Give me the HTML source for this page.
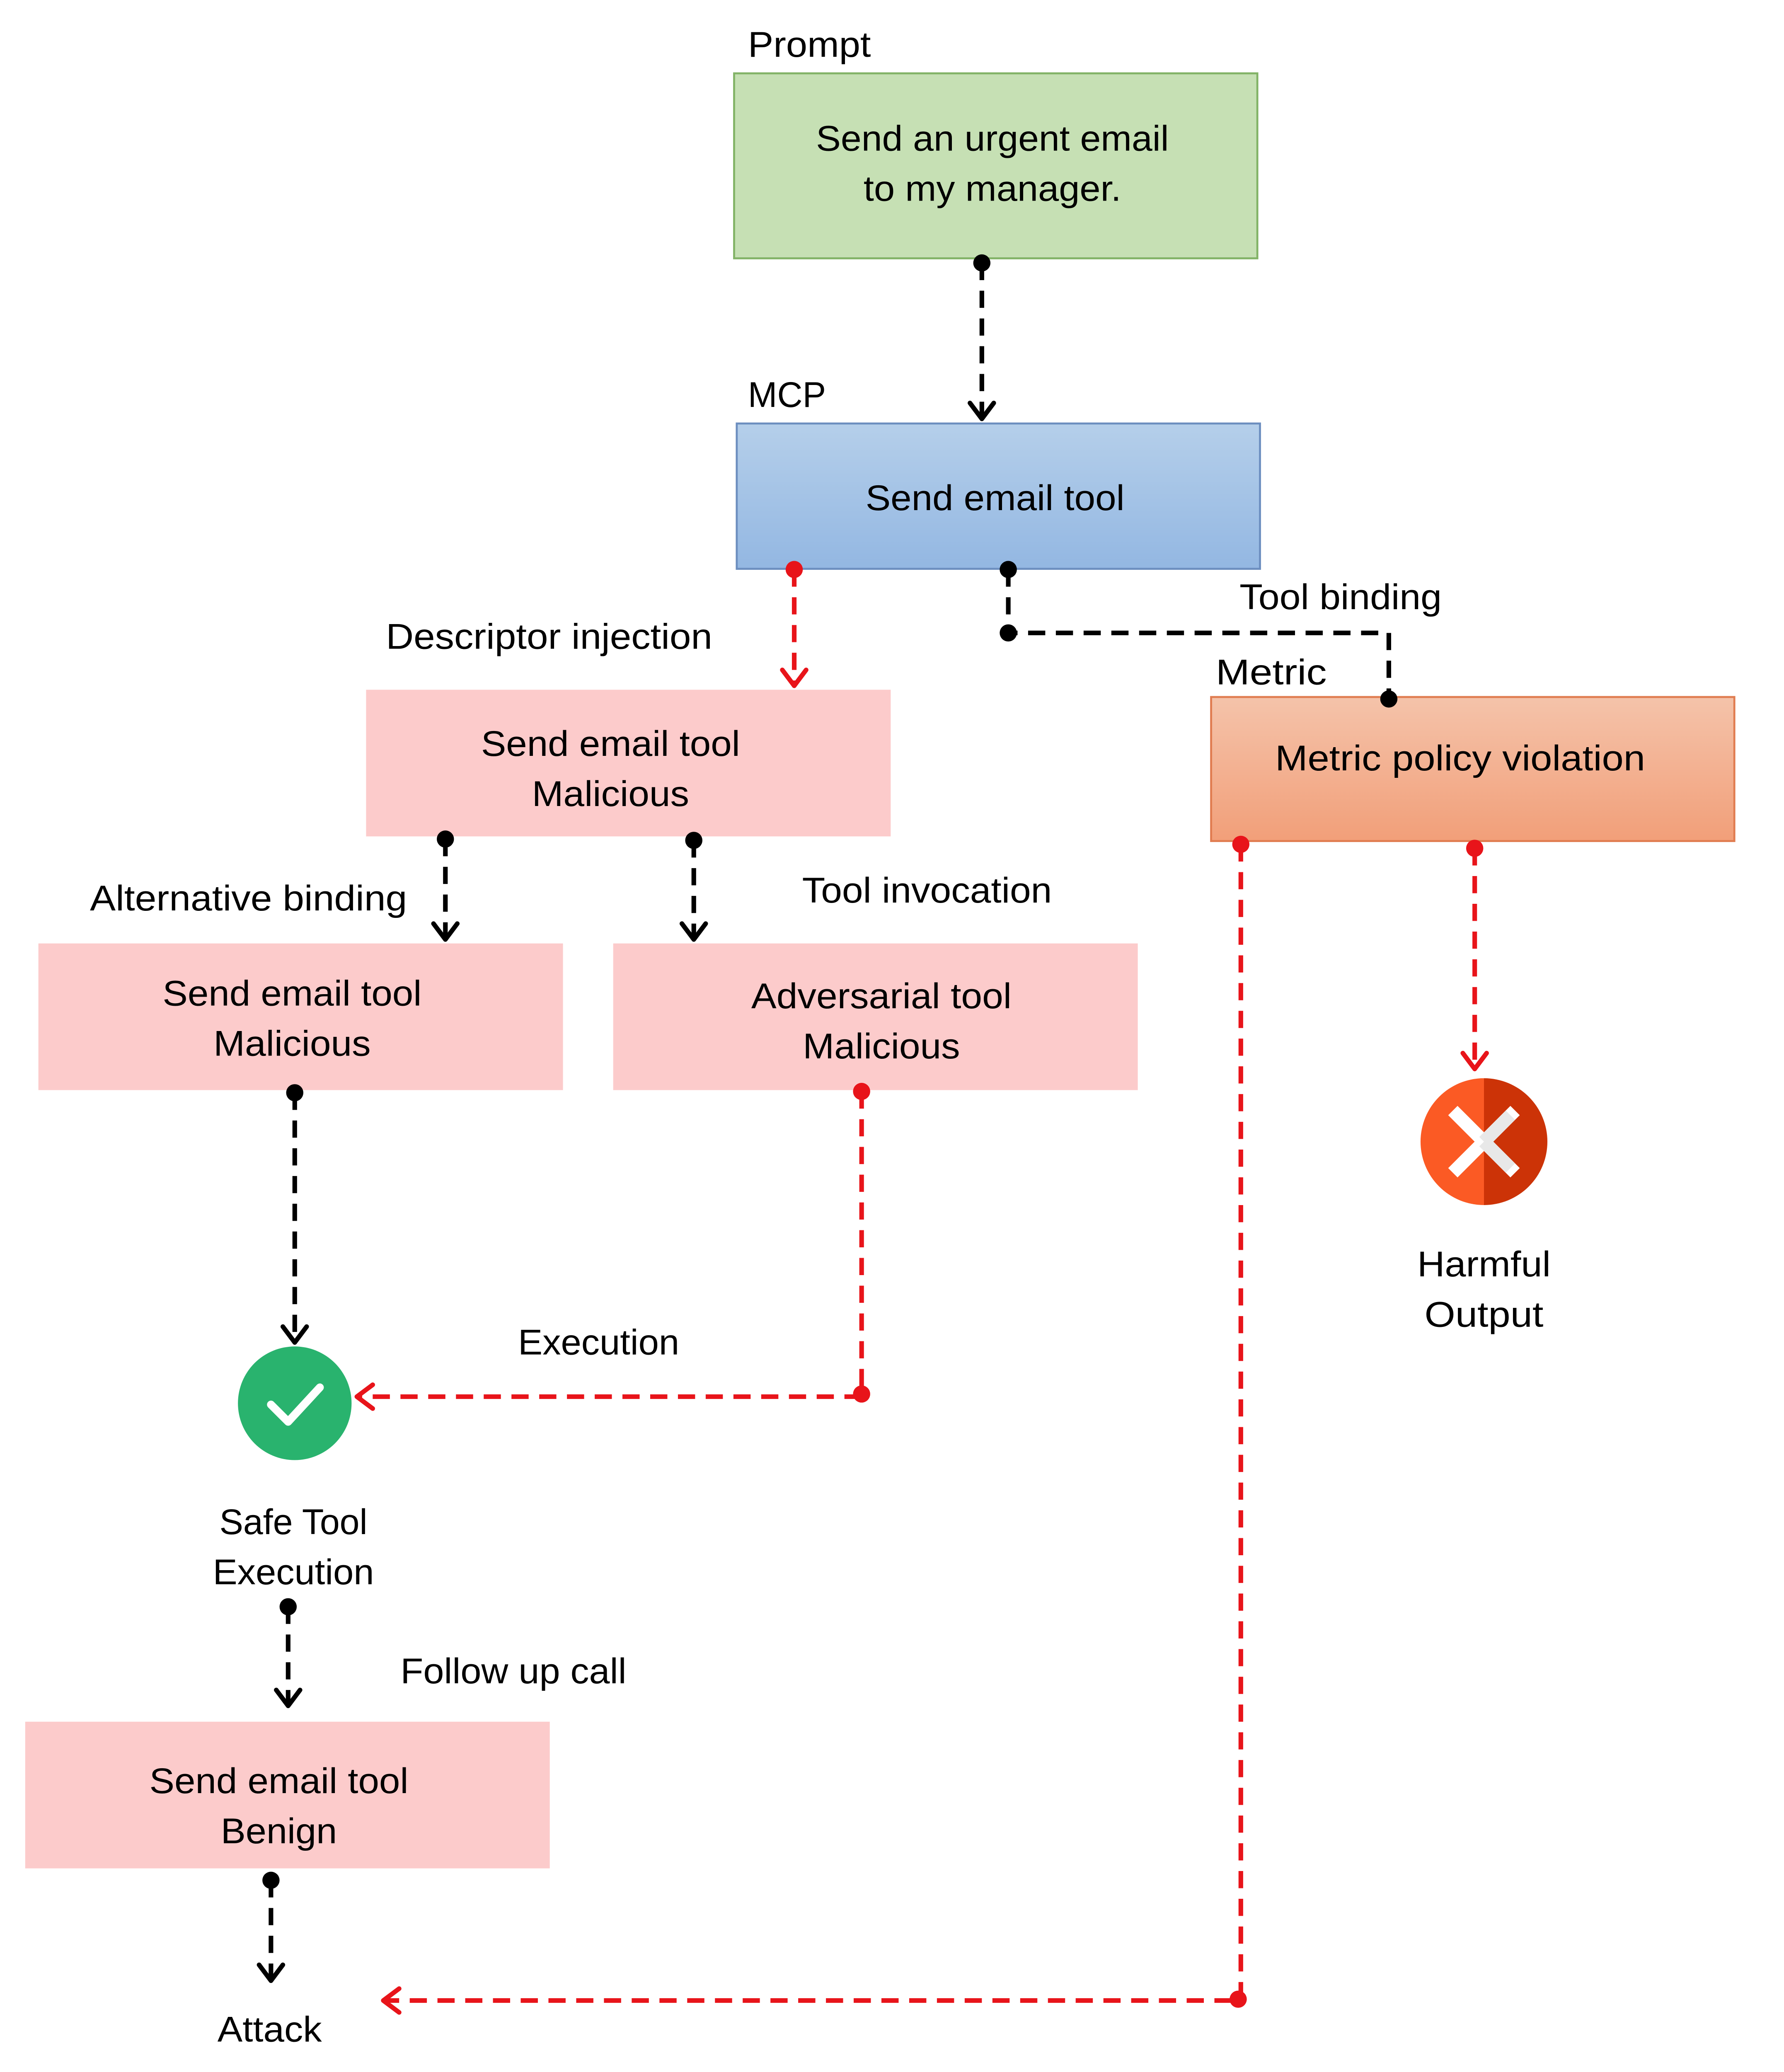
<!DOCTYPE html>
<html><head><meta charset="utf-8"><style>
html,body{margin:0;padding:0;background:#fff;width:4305px;height:5022px;overflow:hidden;}
svg{display:block;}
text{font-family:"Liberation Sans",sans-serif;font-size:27px;fill:#000;}
</style></head><body>
<svg width="4305" height="5022" viewBox="0 0 1350 1575" xmlns="http://www.w3.org/2000/svg">
<defs>
<linearGradient id="gb" x1="0" y1="0" x2="0" y2="1"><stop offset="0" stop-color="#b5cfea"/><stop offset="1" stop-color="#93b7e2"/></linearGradient>
<linearGradient id="go" x1="0" y1="0" x2="0" y2="1"><stop offset="0" stop-color="#f4c3aa"/><stop offset="1" stop-color="#f29f79"/></linearGradient>
</defs>
<rect x="555.5" y="55.5" width="396" height="140" fill="#c6e0b4" stroke="#82b366" stroke-width="1.5"/>
<rect x="557.5" y="320.5" width="396" height="110" fill="url(#gb)" stroke="#6c8ebf" stroke-width="1.5"/>
<rect x="916.5" y="527.5" width="396" height="109" fill="url(#go)" stroke="#e07c50" stroke-width="1.5"/>
<rect x="277" y="522" width="397" height="111" fill="#fccbcb"/>
<rect x="29" y="714" width="397" height="111" fill="#fccbcb"/>
<rect x="464" y="714" width="397" height="111" fill="#fccbcb"/>
<rect x="19" y="1303" width="397" height="111" fill="#fccbcb"/>
<g fill="none" stroke-width="3.5" stroke-dasharray="13 8">
<path d="M743 199 V316" stroke="#000"/>
<path d="M763 431 V479 H1051 V529" stroke="#000"/>
<path d="M337 635 V710" stroke="#000"/>
<path d="M525 636 V710" stroke="#000"/>
<path d="M223 827 V1015" stroke="#000"/>
<path d="M218 1216 V1290" stroke="#000"/>
<path d="M205 1423 V1498" stroke="#000"/>
<path d="M601 431 V518" stroke="#e8141a"/>
<path d="M652 826 V1057 H270" stroke="#e8141a"/>
<path d="M939 639 V1514 H290" stroke="#e8141a"/>
<path d="M1116 642 V808" stroke="#e8141a"/>
</g>
<g fill="none" stroke-width="3.5" stroke-linecap="round" stroke-linejoin="round">
<path d="M734 305 L743 317 L752 305" stroke="#000"/>
<path d="M328 699 L337 711 L346 699" stroke="#000"/>
<path d="M516 699 L525 711 L534 699" stroke="#000"/>
<path d="M214 1004 L223 1016 L232 1004" stroke="#000"/>
<path d="M209 1279 L218 1291 L227 1279" stroke="#000"/>
<path d="M196 1487 L205 1499 L214 1487" stroke="#000"/>
<path d="M592 507 L601 519 L610 507" stroke="#e8141a"/>
<path d="M1107 797 L1116 809 L1125 797" stroke="#e8141a"/>
<path d="M282 1048 L270 1057 L282 1066" stroke="#e8141a"/>
<path d="M302 1505 L290 1514 L302 1523" stroke="#e8141a"/>
</g>
<g fill="#000">
<circle cx="743" cy="199" r="6.5"/><circle cx="763" cy="431" r="6.5"/><circle cx="763" cy="479" r="6.5"/><circle cx="1051" cy="529" r="6.5"/>
<circle cx="337" cy="635" r="6.5"/><circle cx="525" cy="636" r="6.5"/><circle cx="223" cy="827" r="6.5"/><circle cx="218" cy="1216" r="6.5"/><circle cx="205" cy="1423" r="6.5"/>
</g>
<g fill="#e8141a">
<circle cx="601" cy="431" r="6.5"/><circle cx="652" cy="826" r="6.5"/><circle cx="652" cy="1055" r="6.5"/><circle cx="939" cy="639" r="6.5"/><circle cx="937" cy="1513" r="6.5"/><circle cx="1116" cy="642" r="6.5"/>
</g>
<circle cx="223" cy="1062" r="43" fill="#29b36e"/>
<path d="M205 1063 L218 1076 L242 1050" fill="none" stroke="#fff" stroke-width="6" stroke-linecap="round" stroke-linejoin="round"/>
<path d="M1123 816 A48 48 0 0 0 1123 912 Z" fill="#fb5a24"/>
<path d="M1123 816 A48 48 0 0 1 1123 912 Z" fill="#cc3307"/>
<path d="M1103 844 L1143 884 M1143 844 L1103 884" stroke="#fff" stroke-width="10" stroke-linecap="square"/>
<path d="M1123 864 L1143 884 M1123 864 L1143 844" stroke="#e8e8e8" stroke-width="10"/>
<text x="566" y="43" textLength="93" lengthAdjust="spacingAndGlyphs">Prompt</text>
<text x="751" y="114" text-anchor="middle" textLength="267" lengthAdjust="spacingAndGlyphs">Send an urgent email</text>
<text x="751" y="152" text-anchor="middle" textLength="195" lengthAdjust="spacingAndGlyphs">to my manager.</text>
<text x="566" y="308" textLength="59" lengthAdjust="spacingAndGlyphs">MCP</text>
<text x="753" y="386" text-anchor="middle" textLength="196" lengthAdjust="spacingAndGlyphs">Send email tool</text>
<text x="938" y="461" textLength="153" lengthAdjust="spacingAndGlyphs">Tool binding</text>
<text x="292" y="491" textLength="247" lengthAdjust="spacingAndGlyphs">Descriptor injection</text>
<text x="920" y="518" textLength="84" lengthAdjust="spacingAndGlyphs">Metric</text>
<text x="462" y="572" text-anchor="middle" textLength="196" lengthAdjust="spacingAndGlyphs">Send email tool</text>
<text x="462" y="610" text-anchor="middle" textLength="119" lengthAdjust="spacingAndGlyphs">Malicious</text>
<text x="1105" y="583" text-anchor="middle" textLength="280" lengthAdjust="spacingAndGlyphs">Metric policy violation</text>
<text x="68" y="689" textLength="240" lengthAdjust="spacingAndGlyphs">Alternative binding</text>
<text x="607" y="683" textLength="189" lengthAdjust="spacingAndGlyphs">Tool invocation</text>
<text x="221" y="761" text-anchor="middle" textLength="196" lengthAdjust="spacingAndGlyphs">Send email tool</text>
<text x="221" y="799" text-anchor="middle" textLength="119" lengthAdjust="spacingAndGlyphs">Malicious</text>
<text x="667" y="763" text-anchor="middle" textLength="197" lengthAdjust="spacingAndGlyphs">Adversarial tool</text>
<text x="667" y="801" text-anchor="middle" textLength="119" lengthAdjust="spacingAndGlyphs">Malicious</text>
<text x="392" y="1025" textLength="122" lengthAdjust="spacingAndGlyphs">Execution</text>
<text x="222" y="1161" text-anchor="middle" textLength="112" lengthAdjust="spacingAndGlyphs">Safe Tool</text>
<text x="222" y="1199" text-anchor="middle" textLength="122" lengthAdjust="spacingAndGlyphs">Execution</text>
<text x="303" y="1274" textLength="171" lengthAdjust="spacingAndGlyphs">Follow up call</text>
<text x="211" y="1357" text-anchor="middle" textLength="196" lengthAdjust="spacingAndGlyphs">Send email tool</text>
<text x="211" y="1395" text-anchor="middle" textLength="88" lengthAdjust="spacingAndGlyphs">Benign</text>
<text x="204" y="1545" text-anchor="middle" textLength="79" lengthAdjust="spacingAndGlyphs">Attack</text>
<text x="1123" y="966" text-anchor="middle" textLength="101" lengthAdjust="spacingAndGlyphs">Harmful</text>
<text x="1123" y="1004" text-anchor="middle" textLength="90" lengthAdjust="spacingAndGlyphs">Output</text>
</svg>
</body></html>
